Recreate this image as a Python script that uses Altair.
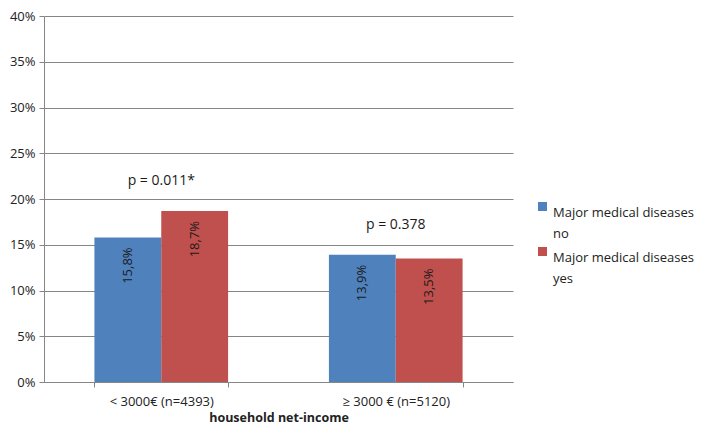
import altair as alt
import pandas as pd

categories = ["< 3000€ (n=4393)", "≥ 3000 € (n=5120)"]
groups = ["Major medical diseases|no", "Major medical diseases|yes"]
values_no = [15.8, 13.9]
values_yes = [18.7, 13.5]
labels_no = ["15,8%", "13,9%"]
labels_yes = ["18,7%", "13,5%"]
p_labels = ["p = 0.011*", "p = 0.378"]
colors = ["#4F81BD", "#C0504D"]

rows = []
for i, c in enumerate(categories):
    rows.append({"cat": c, "grp": groups[0], "val": values_no[i], "lab": labels_no[i]})
    rows.append({"cat": c, "grp": groups[1], "val": values_yes[i], "lab": labels_yes[i]})
df = pd.DataFrame(rows)
pdf = pd.DataFrame({"cat": categories, "p": p_labels,
                    "top": [max(a, b) for a, b in zip(values_no, values_yes)]})

FONT = "Open Sans"
xscale = alt.Scale(domain=categories, paddingInner=0.43, paddingOuter=0.215)
yscale = alt.Scale(domain=[0, 40])

x = alt.X("cat:N", scale=xscale, sort=categories,
          axis=alt.Axis(title="household net-income", labelAngle=0, tickBand="extent",
                        domainColor="#868686", tickColor="#868686", tickSize=5,
                        labelFont=FONT, labelFontSize=13, labelColor="#222222", labelPadding=8,
                        titleFont=FONT, titleFontSize=12.5, titleFontWeight="bold",
                        titleColor="#222222", titlePadding=3))
y = alt.Y("val:Q", scale=yscale,
          axis=alt.Axis(title=None, values=[0, 5, 10, 15, 20, 25, 30, 35, 40],
                        labelExpr="datum.value + '%'", grid=True, gridColor="#868686",
                        domainColor="#868686", tickColor="#868686", tickSize=5,
                        labelFont=FONT, labelFontSize=13, labelColor="#222222", labelPadding=4))

bars = alt.Chart(df).mark_bar().encode(
    x=x, y=y,
    xOffset=alt.XOffset("grp:N", sort=groups, scale=alt.Scale(paddingInner=0, paddingOuter=0)),
    color=alt.Color("grp:N", sort=groups, scale=alt.Scale(domain=groups, range=colors),
                    legend=alt.Legend(title=None, orient="none", legendX=492, legendY=184,
                                      symbolType="square", symbolSize=81, symbolStrokeWidth=0,
                                      labelExpr="split(datum.label, '|')",
                                      labelFont=FONT, labelFontSize=13, labelColor="#222222",
                                      labelLimit=300, rowPadding=4, labelBaseline="top",
                                      labelOffset=4)),
)

texts = alt.Chart(df).mark_text(angle=270, align="right", baseline="middle", dx=-10,
                                font=FONT, fontSize=13, color="#1a1a1a").encode(
    x=alt.X("cat:N", scale=xscale, sort=categories),
    y=alt.Y("val:Q", scale=yscale),
    xOffset=alt.XOffset("grp:N", sort=groups),
    text="lab:N",
)

ptext = alt.Chart(pdf).mark_text(dy=-30, font=FONT, fontSize=14, color="#1a1a1a").encode(
    x=alt.X("cat:N", scale=xscale, sort=categories),
    y=alt.Y("top:Q", scale=yscale),
    text="p:N",
)

chart = alt.layer(bars, texts, ptext).properties(
    width=469, height=366,
    autosize=alt.AutoSizeParams(type="none"),
    padding={"left": 36, "top": 8, "right": 188, "bottom": 43},
).configure(
    background="white",
    style={"guide-label": {"lineHeight": 21}},
).configure_view(stroke="transparent")

chart.save("out.html", embed_options={"renderer": "svg", "actions": False})
